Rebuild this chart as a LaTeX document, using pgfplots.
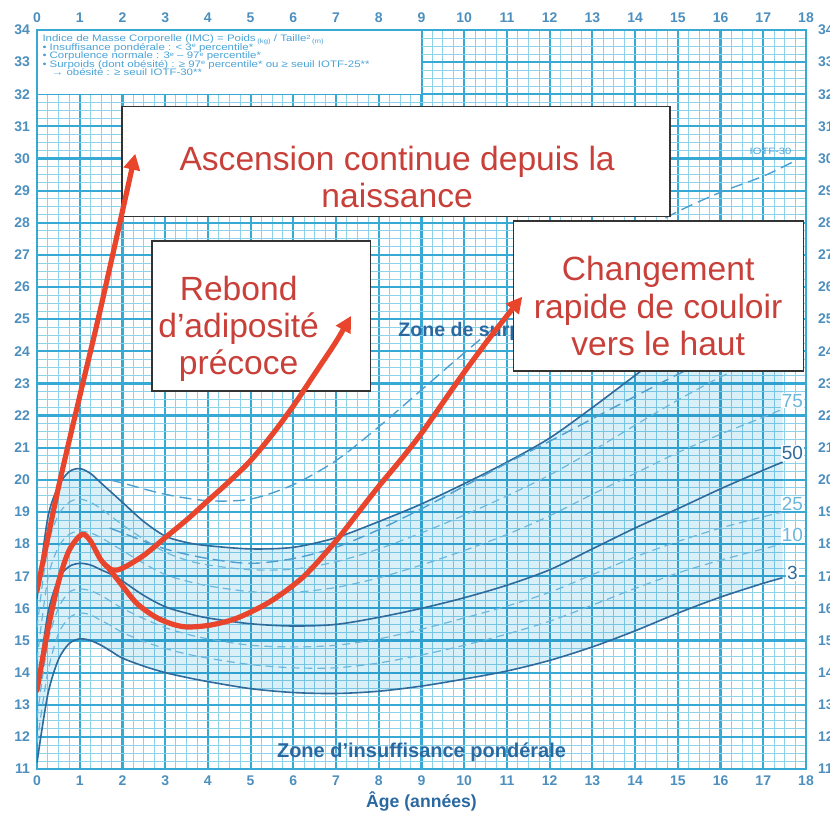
\documentclass[border=0pt]{standalone}
\usepackage{fontspec}
\setmainfont{Liberation Sans}
\newfontfamily\legfont[FakeStretch=1.22]{Liberation Sans}
\usepackage{pgfplots}
\pgfplotsset{compat=1.18}
\usetikzlibrary{arrows.meta}
\definecolor{gridmaj}{HTML}{38A9D4}
\definecolor{gridmin}{HTML}{8ED2EA}
\definecolor{bandcol}{HTML}{D9F0F8}
\definecolor{curvedark}{HTML}{2E6A9B}
\definecolor{dashlight}{HTML}{6BB7DC}
\definecolor{iotf}{HTML}{4E9FCF}
\definecolor{ticklab}{HTML}{4C8FBE}
\definecolor{zonecol}{HTML}{2A68A0}
\definecolor{redline}{HTML}{E8452C}
\definecolor{redtext}{HTML}{C84039}
\definecolor{legcol}{HTML}{4AA3D6}
\newcommand{\supx}[1]{\raisebox{0.55ex}{\fontsize{3}{3}\selectfont #1}}
\begin{document}
\begin{tikzpicture}
% top / right tick labels
\begin{axis}[scale only axis, width=384.5pt, height=369.5pt,
  xmin=0, xmax=18, ymin=11, ymax=34,
  axis x line*=top, axis y line*=right,
  axis line style={draw=none}, tick style={draw=none},
  xtick={0,...,18}, ytick={11,...,34},
  /pgf/number format/assume math mode=true,
  ticklabel style={font=\fontsize{7}{8}\selectfont\bfseries, text=ticklab},
  yticklabel style={xshift=2.5pt}]
\addplot[draw=none] coordinates {(0,11)};
\end{axis}
\begin{axis}[
  scale only axis, width=384.5pt, height=369.5pt,
  xmin=0, xmax=18, ymin=11, ymax=34,
  xtick={0,...,18}, ytick={11,...,34},
  minor x tick num=3, minor y tick num=3,
  grid=both,
  major grid style={line width=1.1pt, draw=gridmaj},
  minor grid style={line width=0.4pt, draw=gridmin},
  axis line style={line width=1.1pt, draw=gridmaj},
  tick style={draw=none},
  /pgf/number format/assume math mode=true,
  ticklabel style={font=\fontsize{7}{8}\selectfont\bfseries, text=ticklab},
  xlabel={Âge (années)},
  xlabel style={font=\fontsize{8.8}{10}\selectfont\bfseries, text=zonecol, yshift=4pt},
]
% normal-corpulence band (3rd to 97th percentile)
\addplot[fill=bandcol, draw=none, blend mode=multiply] coordinates {
(0,16.3)(0.25,18.8)(0.5,19.8)(0.75,20.25)(1,20.35)(1.25,20.2)(1.5,19.9)(1.75,19.6)(2,19.3)(2.5,18.7)(3,18.25)(3.5,18.05)(4,17.95)(5,17.85)(6,17.9)(7,18.2)(8,18.7)(9,19.25)(10,19.88)(11,20.55)(12,21.3)(13,22.25)(14,23.25)(15,24.25)(16,25.2)(17,26.1)(17.45,26.5)
(17.45,16.95)(17,16.78)(16,16.35)(15,15.85)(14,15.3)(13,14.8)(12,14.38)(11,14.05)(10,13.8)(9,13.58)(8,13.42)(7,13.35)(6,13.38)(5,13.5)(4,13.72)(3.5,13.85)(3,14.0)(2.5,14.2)(2,14.45)(1.75,14.65)(1.5,14.85)(1.25,15.0)(1,15.05)(0.75,14.9)(0.5,14.4)(0.25,13.3)(0,11.2)} --cycle;
% percentiles (solid 3, 50, 97)
\addplot[curvedark, line width=0.8pt, smooth] coordinates {
(0,11.2)(0.25,13.3)(0.5,14.4)(0.75,14.9)(1,15.05)(1.25,15.0)(1.5,14.85)(1.75,14.65)(2,14.45)(2.5,14.2)(3,14.0)(3.5,13.85)(4,13.72)(5,13.5)(6,13.38)(7,13.35)(8,13.42)(9,13.58)(10,13.8)(11,14.05)(12,14.38)(13,14.8)(14,15.3)(15,15.85)(16,16.35)(17,16.78)(17.45,16.95)};
\addplot[curvedark, line width=0.8pt, smooth] coordinates {
(0,16.3)(0.25,18.8)(0.5,19.8)(0.75,20.25)(1,20.35)(1.25,20.2)(1.5,19.9)(1.75,19.6)(2,19.3)(2.5,18.7)(3,18.25)(3.5,18.05)(4,17.95)(5,17.85)(6,17.9)(7,18.2)(8,18.7)(9,19.25)(10,19.88)(11,20.55)(12,21.3)(13,22.25)(14,23.25)(15,24.25)(16,25.2)(17,26.1)(17.45,26.5)};
\addplot[curvedark, line width=0.8pt, smooth] coordinates {
(0,13.4)(0.25,15.8)(0.5,16.9)(0.75,17.3)(1,17.4)(1.25,17.35)(1.5,17.2)(1.75,17.05)(2,16.85)(2.5,16.4)(3,16.05)(3.5,15.85)(4,15.7)(5,15.52)(6,15.45)(7,15.5)(8,15.72)(9,16.0)(10,16.33)(11,16.72)(12,17.2)(13,17.85)(14,18.5)(15,19.1)(16,19.72)(17,20.3)(17.45,20.55)};
% dashed percentiles (10, 25, 75, 90)
\addplot[dashlight, line width=0.6pt, dash pattern=on 4pt off 2.5pt, smooth] coordinates {
(0,11.8)(0.25,14.0)(0.5,15.2)(0.75,15.7)(1,15.85)(1.25,15.8)(1.5,15.62)(1.75,15.45)(2,15.25)(2.5,14.97)(3,14.75)(3.5,14.58)(4,14.45)(5,14.25)(6,14.15)(7,14.15)(8,14.3)(9,14.55)(10,14.85)(11,15.2)(12,15.6)(13,16.1)(14,16.62)(15,17.1)(16,17.5)(17,17.85)(17.45,18.0)};
\addplot[dashlight, line width=0.6pt, dash pattern=on 4pt off 2.5pt, smooth] coordinates {
(0,12.6)(0.25,14.9)(0.5,16.0)(0.75,16.5)(1,16.6)(1.25,16.55)(1.5,16.4)(1.75,16.2)(2,16.0)(2.5,15.68)(3,15.4)(3.5,15.2)(4,15.05)(5,14.85)(6,14.8)(7,14.85)(8,15.05)(9,15.35)(10,15.7)(11,16.07)(12,16.5)(13,17.05)(14,17.6)(15,18.08)(16,18.5)(17,18.85)(17.45,19.0)};
\addplot[dashlight, line width=0.6pt, dash pattern=on 4pt off 2.5pt, smooth] coordinates {
(0,14.4)(0.25,16.9)(0.5,17.9)(0.75,18.3)(1,18.4)(1.25,18.35)(1.5,18.2)(1.75,18.0)(2,17.8)(2.5,17.4)(3,17.05)(3.5,16.85)(4,16.7)(5,16.52)(6,16.5)(7,16.65)(8,16.95)(9,17.35)(10,17.8)(11,18.3)(12,18.88)(13,19.55)(14,20.2)(15,20.85)(16,21.42)(17,21.95)(17.45,22.2)};
\addplot[dashlight, line width=0.6pt, dash pattern=on 4pt off 2.5pt, smooth] coordinates {
(0,15.4)(0.25,17.9)(0.5,18.9)(0.75,19.3)(1,19.4)(1.25,19.3)(1.5,19.1)(1.75,18.85)(2,18.6)(2.5,18.15)(3,17.75)(3.5,17.5)(4,17.35)(5,17.2)(6,17.22)(7,17.45)(8,17.85)(9,18.35)(10,18.9)(11,19.5)(12,20.15)(13,20.9)(14,21.7)(15,22.48)(16,23.2)(17,23.8)(17.45,24.1)};
% IOTF thresholds
\addplot[iotf, line width=0.7pt, dash pattern=on 6pt off 3pt, smooth] coordinates {
(1.7,18.5)(2,18.35)(3,17.85)(4,17.55)(5,17.4)(6,17.55)(7,17.9)(8,18.45)(9,19.1)(10,19.8)(11,20.52)(12,21.2)(13,21.9)(14,22.6)(15,23.28)(16,23.9)(17,24.45)(17.7,24.8)};
\addplot[iotf, line width=0.7pt, dash pattern=on 6pt off 3pt, smooth] coordinates {
(1.7,20.0)(2,19.9)(3,19.55)(4,19.35)(5,19.4)(6,19.85)(7,20.6)(8,21.65)(9,22.8)(10,23.95)(11,25.05)(12,26.0)(13,26.85)(14,27.62)(15,28.35)(16,28.95)(17,29.45)(17.7,29.9)};
% labels
\node[font=\legfont\fontsize{4.6}{5}\selectfont, text=legcol] at (axis cs:17.17,30.22) {IOTF-30};
\node[font=\fontsize{9.5}{10}\selectfont, text=dashlight, fill=white, inner sep=0.5pt] at (axis cs:17.68,22.46) {75};
\node[font=\fontsize{9.5}{10}\selectfont, text=curvedark, fill=white, inner sep=0.5pt] at (axis cs:17.68,20.84) {50};
\node[font=\fontsize{9.5}{10}\selectfont, text=dashlight, fill=white, inner sep=0.5pt] at (axis cs:17.68,19.26) {25};
\node[font=\fontsize{9.5}{10}\selectfont, text=dashlight, fill=white, inner sep=0.5pt] at (axis cs:17.68,18.27) {10};
\node[font=\fontsize{9.5}{10}\selectfont, text=curvedark, fill=white, inner sep=0.5pt] at (axis cs:17.68,17.09) {3};
\node[anchor=west, font=\fontsize{9.8}{10}\selectfont\bfseries, text=zonecol, inner sep=0] at (axis cs:8.45,24.63) {Zone de surpoids};
\node[font=\fontsize{10}{11}\selectfont\bfseries, text=zonecol] at (axis cs:9.0,11.53) {Zone d’insuffisance pondérale};
% legend box
\draw[fill=white, draw=gridmaj, line width=0.7pt] (axis cs:0,32) rectangle (axis cs:9,34);
\node[anchor=north west, align=left, inner sep=0, text=legcol,
  font={\legfont\fontsize{4.7}{4.25}\selectfont\lineskiplimit=-10pt}] at (axis cs:0.12,33.86)
 {Indice de Masse Corporelle (IMC) = Poids\,\raisebox{-0.3ex}{\fontsize{3.2}{3.5}\selectfont (kg)} / Taille\supx{2}\,\raisebox{-0.3ex}{\fontsize{3.2}{3.5}\selectfont (m)}\\
 • Insuffisance pondérale : < 3\supx{e} percentile*\\
 • Corpulence normale : 3\supx{e} – 97\supx{e} percentile*\\
 • Surpoids (dont obésité) : ≥ 97\supx{e} percentile* ou ≥ seuil IOTF-25**\\
 \quad→ obésité : ≥ seuil IOTF-30**};
% annotation boxes
\draw[fill=white, draw=black!80, line width=0.7pt] (axis cs:1.99,28.2) rectangle (axis cs:14.82,31.62);
\node[text=redtext, font=\fontsize{16.8}{18.6}\selectfont, align=center] at (axis cs:8.43,29.43) {Ascension continue depuis la\\naissance};
\draw[fill=white, draw=black!80, line width=0.7pt] (axis cs:2.69,22.77) rectangle (axis cs:7.8,27.43);
\node[text=redtext, font=\fontsize{16.8}{18.7}\selectfont, align=center] at (axis cs:4.72,24.7) {Rebond\\d’adiposité\\précoce};
\draw[fill=white, draw=black!80, line width=0.7pt] (axis cs:11.15,23.39) rectangle (axis cs:17.94,28.05);
\node[text=redtext, font=\fontsize{16.8}{18.7}\selectfont, align=center] at (axis cs:14.54,25.4) {Changement\\rapide de couloir\\vers le haut};
% red arrows
\addplot[redline, line width=2.6pt, line cap=round, line join=round, smooth, -{Triangle[length=8pt,width=8pt]}] coordinates {
(0,16.55)(0.5,19.75)(1,22.6)(1.5,25.4)(2.3,30.15)};
\addplot[redline, line width=2.6pt, line cap=round, line join=round, smooth, -{Triangle[length=8pt,width=8pt]}] coordinates {
(0,13.45)(0.25,15.3)(0.5,16.8)(0.75,17.8)(1.05,18.3)(1.25,18.1)(1.5,17.5)(1.75,17.2)(2.0,17.25)(2.5,17.65)(3,18.2)(3.5,18.75)(4,19.35)(4.5,19.95)(5,20.6)(5.5,21.4)(6,22.3)(6.5,23.3)(7,24.3)(7.35,25.1)};
\addplot[redline, line width=2.6pt, line cap=round, line join=round, smooth, -{Triangle[length=8pt,width=8pt]}] coordinates {
(1.65,17.3)(2,16.7)(2.34,16.15)(2.75,15.75)(3.12,15.53)(3.5,15.42)(4.06,15.48)(4.69,15.7)(5.47,16.22)(6.25,17.0)(7.0,18.1)(7.5,18.95)(8,19.8)(8.5,20.6)(9,21.45)(9.5,22.4)(10,23.35)(10.7,24.6)(11.36,25.7)};
\end{axis}
\pgfresetboundingbox
\path[use as bounding box] (-18.5pt,-22.5pt) rectangle (396.5pt,384.5pt);
\end{tikzpicture}
\end{document}
